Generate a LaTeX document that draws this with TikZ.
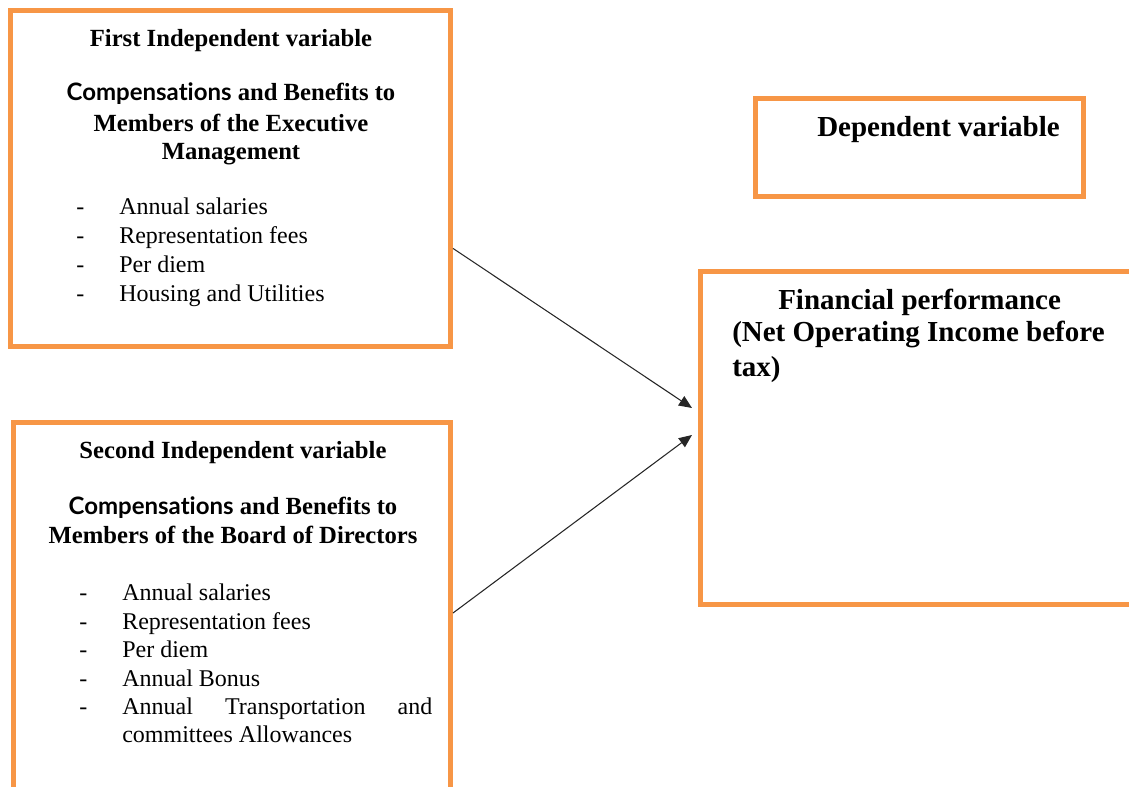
\documentclass[tikz,border=0pt]{standalone}
\usepackage{fontspec}
\setmainfont{Liberation Serif}
\newfontfamily\compfont[Ligatures=NoCommon]{Lato}
\usetikzlibrary{arrows.meta,calc}
\definecolor{boxorange}{RGB}{247,150,70}

\begin{document}
\begin{tikzpicture}[x=0.75pt,y=-0.75pt,
  every node/.style={inner sep=0pt},
  varbox/.style 2 args={draw=boxorange,line width=3.75pt,minimum width=#1*0.75pt,minimum height=#2*0.75pt},
  head/.style={font=\bfseries\fontsize{18.5}{21}\selectfont,anchor=base},
  bighead/.style={font=\bfseries\fontsize{21.75}{25}\selectfont,anchor=base west},
  item/.style={font=\fontsize{18}{21}\selectfont,anchor=base west},
  conn/.style={-{Triangle[length=9.75pt,width=8.25pt]},line width=0.8pt,black!85}]
  \useasboundingbox (0,0) rectangle (1129,787);
  % boxes
  \node[varbox={440}{336}] (box1) at (230.5,178.5) {};
  \node[varbox={437}{381}] (box2) at (232,613) {};
  \node[varbox={328}{98}] (box3) at (919.5,147.5) {};
  \node[varbox={439.5}{333}] (box4) at (920.25,438) {};
  % first independent variable
  \node[head] (t1) at (231,47) {First Independent variable};
  \node[head] (c1a) at (231,101) {{\compfont\fontsize{18}{21}\selectfont Compensations} and Benefits to};
  \node[head] (c1b) at (231,132) {Members of the Executive};
  \node[head] (c1c) at (231,160) {Management};
  \foreach \txt [count=\i] in {Annual salaries, Representation fees, Per diem, Housing and Utilities} {
    \node[item] (ed\i) at (76,186+29*\i) {-};
    \node[item] (ea\i) at (119,186+29*\i) {\txt};
  }
  % second independent variable
  \node[head] (t2) at (233,459) {Second Independent variable};
  \node[head] (c2a) at (233,515) {{\compfont\fontsize{18}{21}\selectfont Compensations} and Benefits to};
  \node[head] (c2b) at (233,544) {Members of the Board of Directors};
  \foreach \txt [count=\i] in {Annual salaries, Representation fees, Per diem, Annual Bonus} {
    \node[item] (bd\i) at (79,572.6+28.4*\i) {-};
    \node[item] (ba\i) at (122,572.6+28.4*\i) {\txt};
  }
  \node[item] (bd5) at (79,715) {-};
  \node[item] (ba5) at (122,715) {\makebox[232.5pt][s]{Annual Transportation and}};
  \node[item] (ba6) at (122,743) {committees Allowances};
  % dependent variable
  \node[bighead] (dv) at (817,137) {Dependent variable};
  \node[bighead] (fp1) at (778,310) {Financial performance};
  \node[bighead] (fp2) at (732,341.7) {(Net Operating Income before};
  \node[bighead] (fp3) at (732,376.7) {tax)};
  % arrows
  \coordinate (e1) at (692,408);
  \coordinate (e2) at (692,435);
  \draw[conn] ($(box1.north east)!0.705!(box1.south east)$) -- (e1);
  \draw[conn] (box2.east) -- (e2);
\end{tikzpicture}
\end{document}
